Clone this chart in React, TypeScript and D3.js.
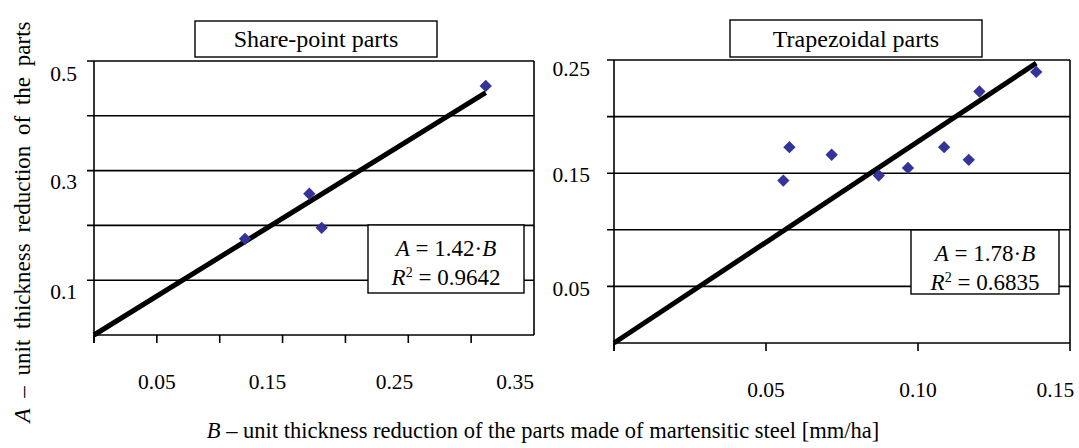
import React from 'react';
import * as d3 from 'd3';

const W = 1079;
const H = 448;
const FONT = '"Liberation Serif", "Times New Roman", serif';

// ---- Left panel: Share-point parts ----
const leftTitle = 'Share-point parts';
const leftB = [0.1201, 0.1713, 0.1811, 0.3116];
const leftA = [0.1755, 0.2578, 0.1956, 0.4545];
const leftSlope = 1.42;
const leftSlopeText = '1.42';
const leftR2 = '0.9642';
const leftXDomain = [0, 0.35];
const leftYDomain = [0, 0.5];
const leftGrid = [0.1, 0.2, 0.3, 0.4, 0.5];
const leftYLabels = ['0.1', '0.3', '0.5'];
const leftXTicks = [0, 0.05, 0.1, 0.15, 0.2, 0.25, 0.3];
const leftXLabels = ['0.05', '0.15', '0.25', '0.35'];
const leftXLabelAt = [0.05, 0.138, 0.239, 0.335];

// ---- Right panel: Trapezoidal parts ----
const rightTitle = 'Trapezoidal parts';
const rightB = [0.0557, 0.0577, 0.0716, 0.0871, 0.0967, 0.1086, 0.1167, 0.1202, 0.1389];
const rightA = [0.1435, 0.173, 0.1663, 0.148, 0.1547, 0.173, 0.1618, 0.2222, 0.2395];
const rightSlope = 1.78;
const rightSlopeText = '1.78';
const rightR2 = '0.6835';
const rightXDomain = [0, 0.15];
const rightYDomain = [0, 0.25];
const rightGrid = [0.05, 0.1, 0.15, 0.2, 0.25];
const rightYLabels = ['0.05', '0.15', '0.25'];
const rightXTicks = [0, 0.05, 0.1, 0.15];
const rightXLabels = ['0.05', '0.10', '0.15'];
const rightXLabelAt = [0.05, 0.1, 0.1452];

const yTitle = 'unit thickness reduction of the parts';
const xTitle = 'unit thickness reduction of the parts made of martensitic steel [mm/ha]';

type PanelProps = {
  title: string;
  B: number[];
  A: number[];
  slope: number;
  slopeText: string;
  r2: string;
  xDomain: number[];
  yDomain: number[];
  grid: number[];
  yLabels: string[];
  xTicks: number[];
  xLabels: string[];
  xLabelAt: number[];
  x0: number;
  x1: number;
  yTop: number;
  yBot: number;
  yLabelRight: number;
  yLabelDy: number[];
  titleBox: [number, number, number, number];
  eqBox: [number, number, number, number];
};

function Panel(p: PanelProps) {
  const x = d3.scaleLinear().domain(p.xDomain).range([p.x0, p.x1]);
  const y = d3.scaleLinear().domain(p.yDomain).range([p.yBot, p.yTop]);
  const bMax = d3.max(p.B) as number;
  const line = d3.line<number>().x((b) => x(b)).y((b) => y(p.slope * b));
  const diamond = d3.symbol().type(d3.symbolSquare).size(76)();
  const [tx, ty, tw, th] = p.titleBox;
  const [ex, ey, ew, eh] = p.eqBox;
  const ecx = ex + ew / 2;
  return (
    <g>
      {p.grid.map((g, i) => (
        <line key={'g' + i} x1={p.x0 - 7} x2={p.x1} y1={y(g)} y2={y(g)} stroke="#000" strokeWidth={1.6} />
      ))}
      <line x1={p.x0} x2={p.x1} y1={p.yBot} y2={p.yBot} stroke="#000" strokeWidth={1.6} />
      <line x1={p.x1} x2={p.x1} y1={p.yTop} y2={p.yBot} stroke="#000" strokeWidth={1.6} />
      <line x1={p.x0} x2={p.x0} y1={p.yTop} y2={p.yBot + 8} stroke="#000" strokeWidth={1.6} />
      {p.xTicks.map((t, i) => (
        <line key={'xt' + i} x1={x(t)} x2={x(t)} y1={p.yBot} y2={p.yBot + 8} stroke="#000" strokeWidth={1.6} />
      ))}
      {p.yLabels.map((l, i) => (
        <text key={'yl' + i} x={p.yLabelRight} y={y(+l) + p.yLabelDy[i]} dy="0.35em" textAnchor="end" fontSize={21.5} fontFamily={FONT} fill="#000">
          {l}
        </text>
      ))}
      {p.xLabels.map((l, i) => (
        <text key={'xl' + i} x={x(p.xLabelAt[i])} y={p.yBot + 46} dy="0.35em" textAnchor="middle" fontSize={21.5} fontFamily={FONT} fill="#000">
          {l}
        </text>
      ))}
      <path d={line([0, bMax]) as string} fill="none" stroke="#000" strokeWidth={5} />
      {p.B.map((b, i) => (
        <path key={'p' + i} d={diamond as string} transform={`translate(${x(b)},${y(p.A[i])}) rotate(45)`} fill="#333399" />
      ))}
      <rect x={ex} y={ey} width={ew} height={eh} fill="#fff" stroke="#000" strokeWidth={1.4} />
      <text x={ecx} y={ey + 23} dy="0.35em" textAnchor="middle" fontSize={23} fontFamily={FONT} fill="#000">
        <tspan fontStyle="italic">A</tspan>
        <tspan>{' = ' + p.slopeText + '·'}</tspan>
        <tspan fontStyle="italic">B</tspan>
      </text>
      <text x={ecx} y={ey + 52} dy="0.35em" textAnchor="middle" fontSize={23} fontFamily={FONT} fill="#000">
        <tspan fontStyle="italic">R</tspan>
        <tspan fontSize={14} dy={-8}>2</tspan>
        <tspan dy={8}>{' = ' + p.r2}</tspan>
      </text>
      <rect x={tx} y={ty} width={tw} height={th} fill="#fff" stroke="#000" strokeWidth={1.4} />
      <text x={tx + tw / 2} y={ty + th / 2} dy="0.35em" textAnchor="middle" fontSize={24} fontFamily={FONT} fill="#000">
        {p.title}
      </text>
    </g>
  );
}

export default function App() {
  return (
    <div style={{ position: 'absolute', left: 0, top: 0 }}>
      <svg width={W} height={H} style={{ display: 'block', background: '#fff' }}>
        <rect x={0} y={0} width={W} height={H} fill="#fff" />
        <Panel
          title={leftTitle}
          B={leftB}
          A={leftA}
          slope={leftSlope}
          slopeText={leftSlopeText}
          r2={leftR2}
          xDomain={leftXDomain}
          yDomain={leftYDomain}
          grid={leftGrid}
          yLabels={leftYLabels}
          xTicks={leftXTicks}
          xLabels={leftXLabels}
          xLabelAt={leftXLabelAt}
          x0={94}
          x1={534}
          yTop={61}
          yBot={335}
          yLabelRight={77}
          yLabelDy={[11, 11, 12]}
          titleBox={[195, 21, 242, 36]}
          eqBox={[368, 225, 156, 68]}
        />
        <Panel
          title={rightTitle}
          B={rightB}
          A={rightA}
          slope={rightSlope}
          slopeText={rightSlopeText}
          r2={rightR2}
          xDomain={rightXDomain}
          yDomain={rightYDomain}
          grid={rightGrid}
          yLabels={rightYLabels}
          xTicks={rightXTicks}
          xLabels={rightXLabels}
          xLabelAt={rightXLabelAt}
          x0={614}
          x1={1070}
          yTop={60}
          yBot={343}
          yLabelRight={590}
          yLabelDy={[2, 1, 8]}
          titleBox={[730, 20, 252, 37]}
          eqBox={[911, 230, 148, 64]}
        />
        <text transform="translate(30,222) rotate(-90)" textAnchor="middle" fontSize={23} fontFamily={FONT} fill="#000" wordSpacing={5}>
          <tspan fontStyle="italic">A</tspan>
          <tspan>{' – ' + yTitle}</tspan>
        </text>
        <text x={543} y={438} textAnchor="middle" fontSize={22.5} fontFamily={FONT} fill="#000">
          <tspan fontStyle="italic">B</tspan>
          <tspan>{' – ' + xTitle}</tspan>
        </text>
      </svg>
    </div>
  );
}
